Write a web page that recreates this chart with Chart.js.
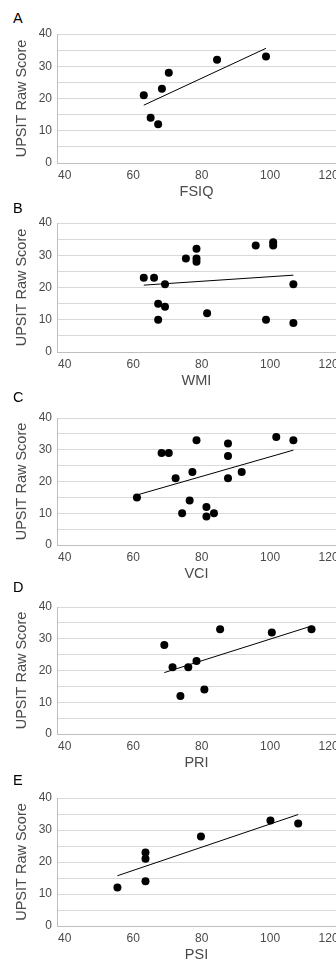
<!DOCTYPE html>
<html>
<head>
<meta charset="utf-8">
<script src="https://cdn.jsdelivr.net/npm/chart.js@4/dist/chart.umd.min.js"></script>
<style>
  html, body { margin: 0; padding: 0; background: #fff; }
  body { width: 336px; height: 965px; position: relative; overflow: hidden;
         font-family: 'Liberation Sans', Arial, sans-serif; }
  canvas { position: absolute; left: 0; }
  .tag { position: absolute; left: 13px; font-size: 14.5px; line-height: 14px; color: #000; }
</style>
</head>
<body>
<script>
// ── Data ─────────────────────────────────────────────────────────────────────
const X_TICKS = [40, 60, 80, 100, 120];
const Y_TICKS = [0, 5, 10, 15, 20, 25, 30, 35, 40];

const FSIQ_X = [63.1, 65.1, 67.3, 68.4, 70.4, 84.5, 98.8];
const FSIQ_Y = [21, 14, 12, 23, 28, 32, 33];

const WMI_X = [63.1, 66.1, 69.3, 67.3, 69.3, 67.3, 75.4, 78.5, 78.5, 78.5, 81.6, 95.8, 100.9, 100.9, 98.8, 106.8, 106.8];
const WMI_Y = [23, 23, 21, 15, 14, 10, 29, 32, 29, 28, 12, 33, 34, 33, 10, 21, 9];

const VCI_X = [61.1, 68.3, 70.4, 72.4, 74.3, 76.5, 77.3, 78.5, 81.4, 81.4, 83.6, 87.7, 87.7, 87.7, 91.7, 101.8, 106.8];
const VCI_Y = [15, 29, 29, 21, 10, 14, 23, 33, 12, 9, 10, 32, 28, 21, 23, 34, 33];

const PRI_X = [69.1, 71.5, 73.8, 76.1, 78.5, 80.8, 85.4, 100.5, 112.1];
const PRI_Y = [28, 21, 12, 21, 23, 14, 33, 32, 33];

const PSI_X = [55.4, 63.6, 63.6, 63.6, 79.8, 100.1, 108.2];
const PSI_Y = [12, 23, 21, 14, 28, 33, 32];

// ── Layout / style ───────────────────────────────────────────────────────────
const X_MIN = 37.75, X_MAX = 119.25;
const PAD_TOP = 10, X_AXIS_H = 38, Y_AXIS_W = 57;
const GRID = '#d9d9d9', AXIS = '#bfbfbf', TEXT = '#4a4a4a';
const FONT = "'Liberation Sans', Arial, sans-serif";

const PANELS = [
  { tag: 'A', title: 'FSIQ', xs: FSIQ_X, ys: FSIQ_Y, top: 34,  plotH: 129, tagY: 11 },
  { tag: 'B', title: 'WMI',  xs: WMI_X,  ys: WMI_Y,  top: 223, plotH: 129, tagY: 201 },
  { tag: 'C', title: 'VCI',  xs: VCI_X,  ys: VCI_Y,  top: 418, plotH: 127, tagY: 390 },
  { tag: 'D', title: 'PRI',  xs: PRI_X,  ys: PRI_Y,  top: 607, plotH: 127, tagY: 580 },
  { tag: 'E', title: 'PSI',  xs: PSI_X,  ys: PSI_Y,  top: 798, plotH: 128, tagY: 773 },
];

// least-squares trend line over the data range
function trend(xs, ys) {
  const n = xs.length;
  const mx = xs.reduce((a, b) => a + b, 0) / n;
  const my = ys.reduce((a, b) => a + b, 0) / n;
  let sxy = 0, sxx = 0;
  for (let i = 0; i < n; i++) {
    sxy += (xs[i] - mx) * (ys[i] - my);
    sxx += (xs[i] - mx) ** 2;
  }
  const b = sxy / sxx;
  const lo = Math.min(...xs), hi = Math.max(...xs);
  return [{ x: lo, y: my + b * (lo - mx) }, { x: hi, y: my + b * (hi - mx) }];
}

// keep the plot area fixed: no extra room for edge labels
function noPad(s) {
  s.paddingLeft = 0; s.paddingRight = 0; s.paddingTop = 0; s.paddingBottom = 0;
}

function makePanel(p) {
  const tag = document.createElement('div');
  tag.className = 'tag';
  tag.style.top = p.tagY + 'px';
  tag.textContent = p.tag;
  document.body.appendChild(tag);

  const cv = document.createElement('canvas');
  cv.width = 336;
  cv.height = PAD_TOP + p.plotH + X_AXIS_H;
  cv.style.top = (p.top - PAD_TOP) + 'px';
  document.body.appendChild(cv);

  const pts = p.xs.map((x, i) => ({ x, y: p.ys[i] }));

  new Chart(cv, {
    type: 'scatter',
    data: {
      datasets: [
        { data: pts, backgroundColor: '#000', borderColor: '#000', borderWidth: 0,
          pointRadius: 4, pointHoverRadius: 4, order: 1 },
        { data: trend(p.xs, p.ys), showLine: true, borderColor: '#000', borderWidth: 1,
          pointRadius: 0, fill: false, order: 2 },
      ],
    },
    options: {
      responsive: false,
      animation: false,
      layout: { autoPadding: false, padding: { top: PAD_TOP, left: 0, right: 0, bottom: 0 } },
      plugins: { legend: { display: false }, tooltip: { enabled: false } },
      scales: {
        x: {
          type: 'linear', min: X_MIN, max: X_MAX,
          // blank tick at the left edge so that 'inner' only pulls in the last label
          afterBuildTicks: s => { s.ticks = [X_MIN, ...X_TICKS].map(v => ({ value: v })); },
          afterFit: s => { s.height = X_AXIS_H; noPad(s); },
          grid: { display: false, drawTicks: false },
          border: { display: true, color: AXIS, width: 1 },
          ticks: { padding: 5, color: TEXT, autoSkip: false, maxRotation: 0, align: 'inner',
                   callback: v => (X_TICKS.includes(v) ? v : ''),
                   font: { family: FONT, size: 12 } },
          title: { display: true, text: p.title, color: TEXT,
                   font: { family: FONT, size: 14.5 }, padding: { top: 0, bottom: 0 } },
        },
        y: {
          min: 0, max: 40,
          afterBuildTicks: s => { s.ticks = Y_TICKS.map(v => ({ value: v })); },
          afterFit: s => { s.width = Y_AXIS_W; noPad(s); },
          grid: { color: GRID, drawTicks: false },
          border: { display: true, color: AXIS, width: 1 },
          ticks: { padding: 5, color: TEXT, autoSkip: false,
                   callback: v => (v % 10 === 0 ? v : ''),
                   font: { family: FONT, size: 12 } },
          title: { display: true, text: 'UPSIT Raw Score', color: TEXT,
                   font: { family: FONT, size: 14.5 }, padding: { top: 13, bottom: 0 } },
        },
      },
    },
  });
}

PANELS.forEach(makePanel);
</script>
</body>
</html>
